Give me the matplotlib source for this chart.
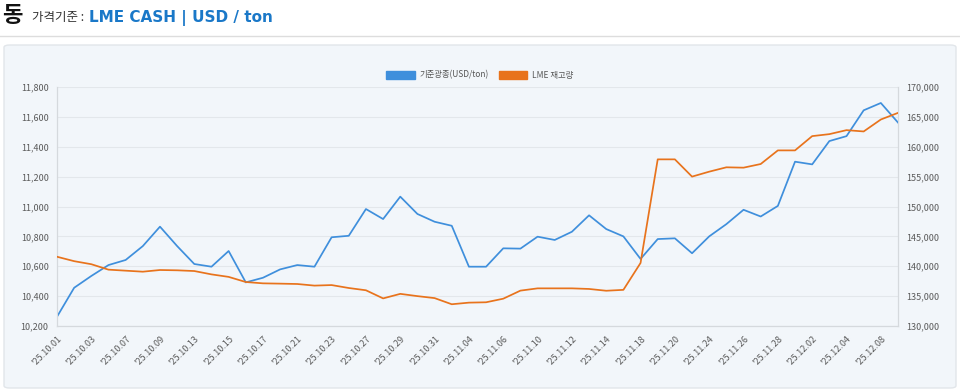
import matplotlib
matplotlib.use("Agg")
import matplotlib.pyplot as plt
from matplotlib.patches import FancyBboxPatch, Patch
from matplotlib.ticker import FuncFormatter

plt.rcParams['font.family'] = ['Noto Sans CJK KR', 'DejaVu Sans']

# 거래일 (LME)
dates = ['10.01', '10.02', '10.03', '10.06', '10.07', '10.08', '10.09', '10.10',
         '10.13', '10.14', '10.15', '10.16', '10.17', '10.20', '10.21', '10.22',
         '10.23', '10.24', '10.27', '10.28', '10.29', '10.30', '10.31', '11.03',
         '11.04', '11.05', '11.06', '11.07', '11.10', '11.11', '11.12', '11.13',
         '11.14', '11.17', '11.18', '11.19', '11.20', '11.21', '11.24', '11.25',
         '11.26', '11.27', '11.28', '12.01', '12.02', '12.03', '12.04', '12.05',
         '12.08', '12.09']

# 기준광종 가격 (USD/ton)
price = [10262, 10456, 10535, 10608, 10642, 10735, 10865, 10735, 10615, 10597,
         10702, 10492, 10523, 10579, 10608, 10597, 10794, 10804, 10983, 10916,
         11066, 10950, 10898, 10871, 10597, 10597, 10720, 10718, 10798, 10776,
         10831, 10941, 10849, 10800, 10649, 10782, 10787, 10687, 10800, 10882,
         10978, 10933, 11004, 11300, 11282, 11438, 11471, 11644, 11693, 11562]

# LME 재고량 (ton)
stock = [141590, 140850, 140340, 139430, 139260, 139090, 139370, 139320, 139200, 138640,
         138220, 137360, 137140, 137090, 137030, 136760, 136850, 136360, 135980, 134620,
         135380, 135000, 134670, 133640, 133910, 133970, 134570, 135920, 136300, 136300,
         136300, 136200, 135900, 136050, 140550, 157890, 157890, 155000, 155830, 156560,
         156500, 157110, 159390, 159390, 161780, 162110, 162780, 162560, 164560, 165670]

blue = '#3f8fdc'
orange = '#e8731c'
panel = '#f2f6fa'
label_color = '#5a5a5a'

fig = plt.figure(figsize=(9.6, 3.91), dpi=100)
fig.patch.set_facecolor('white')

# 제목
fig.text(2/960, 1-15/391, '동', fontsize=16, fontweight='bold', color='#111111', va='center')
fig.text(32/960, 1-18/391, '가격기준 : ', fontsize=9, color='#333333', va='center')
fig.text(89/960, 1-18/391, 'LME CASH | USD / ton', fontsize=11, fontweight='bold',
         color='#1a78c8', va='center', family=['DejaVu Sans'])
fig.add_artist(plt.Line2D([0, 1], [1-36/391, 1-36/391], color='#dddddd', lw=1))

# 패널 배경
bg = FancyBboxPatch((4/960, 3/391), 952/960, 343/391,
                    boxstyle='round,pad=0,rounding_size=0.006',
                    transform=fig.transFigure, facecolor=panel,
                    edgecolor='#e2e6ea', lw=1, zorder=-1)
fig.add_artist(bg)

ax1 = fig.add_axes([57/960, 1-326/391, 841/960, 239/391])
ax1.set_facecolor(panel)
ax2 = ax1.twinx()

x = list(range(len(dates)))
ax1.plot(x, price, color=blue, lw=1.25, zorder=3)
ax2.plot(x, stock, color=orange, lw=1.25, zorder=3)

ax1.set_xlim(0, len(dates) - 1)
ax1.set_ylim(10200, 11800)
ax2.set_ylim(130000, 170000)
ax1.set_yticks(range(10200, 11801, 200))
ax2.set_yticks(range(130000, 170001, 5000))
fmt = FuncFormatter(lambda v, p: f'{int(v):,}')
ax1.yaxis.set_major_formatter(fmt)
ax2.yaxis.set_major_formatter(fmt)

ax1.set_xticks(x[::2])
ax1.set_xticklabels(["'25." + d for d in dates[::2]], rotation=45, ha='right',
                    rotation_mode='anchor', fontsize=6.5, color=label_color)

ax1.grid(axis='y', color='#e3e7eb', lw=0.8)
ax1.set_axisbelow(True)

for ax in (ax1, ax2):
    ax.tick_params(axis='y', length=0, labelsize=6.5, labelcolor=label_color, pad=6)
    ax.tick_params(axis='x', length=0, pad=6)
    for s in ax.spines.values():
        s.set_color('#d5d9dd')
        s.set_linewidth(0.8)
ax1.spines['top'].set_visible(False)
ax2.spines['top'].set_visible(False)

handles = [Patch(facecolor=blue, edgecolor=blue), Patch(facecolor=orange, edgecolor=orange)]
fig.legend(handles, ['기준광종(USD/ton)', 'LME 재고량'], loc='center',
           bbox_to_anchor=(0.5, 1-75/391), ncol=2, frameon=False, fontsize=6,
           handlelength=3.4, handleheight=1.1, columnspacing=1.2, handletextpad=0.6,
           labelcolor='#555555')

fig.savefig('out.png', dpi=100, facecolor='white')
